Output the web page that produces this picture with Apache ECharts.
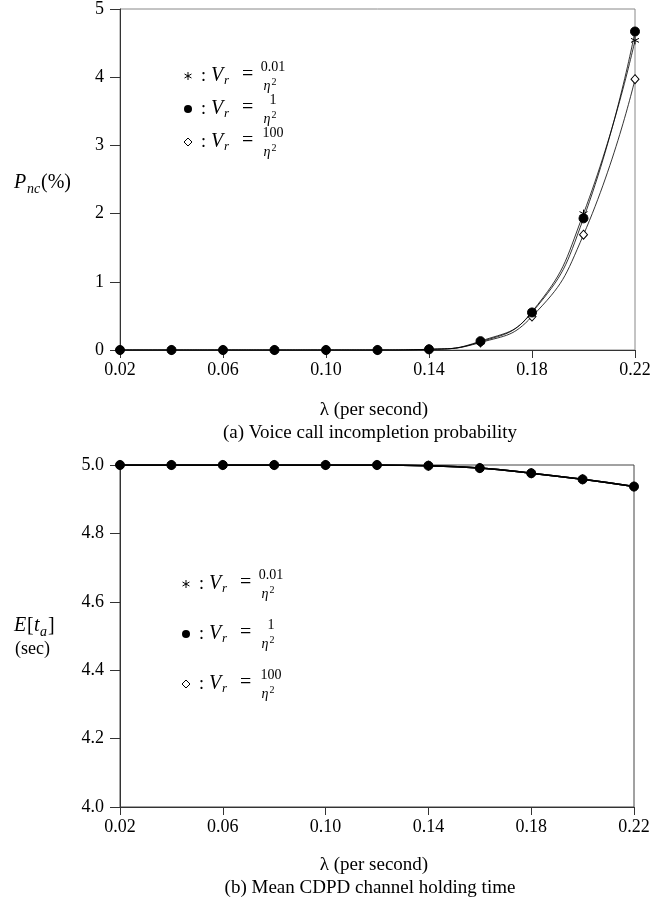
<!DOCTYPE html>
<html>
<head>
<meta charset="utf-8">
<script src="https://cdn.jsdelivr.net/npm/echarts@6/dist/echarts.min.js"></script>
<style>html,body{margin:0;padding:0;background:#fff}#c{width:664px;height:904px}</style>
</head>
<body>
<div id="c"></div>
<script>
const lambda = [0.02,0.04,0.06,0.08,0.10,0.12,0.14,0.16,0.18,0.20,0.22];
const xTicks = [0.02,0.06,0.10,0.14,0.18,0.22];
const pncStar = [0,0,0,0,0,0,0.01,0.12,0.56,2.00,4.54];
const pncDot  = [0,0,0,0,0,0,0.01,0.13,0.55,1.93,4.67];
const pncDia  = [0,0,0,0,0,0,0.01,0.11,0.49,1.69,3.97];
const etStar = [5.0,5.0,5.0,5.0,5.0,5.0,4.998,4.991,4.976,4.958,4.937];
const etDot  = [5.0,5.0,5.0,5.0,5.0,5.0,4.998,4.991,4.976,4.958,4.937];
const etDia  = [5.0,5.0,5.0,5.0,5.0,5.0,4.998,4.991,4.976,4.958,4.937];
const topTicks = [0,1,2,3,4,5];
const botTicks = [4.0,4.2,4.4,4.6,4.8,5.0];

const FONT = 'Liberation Serif';
const pair = ys => lambda.map((x,i)=>[x, ys[i]]);
const starPath = 'path://M0,-10L0,10M-8.66,-5L8.66,5M-8.66,5L8.66,-5';

function xAxisCfg(gi){
  return {
    type:'value', gridIndex:gi, min:0.02, max:0.22, interval:0.02,
    axisLine:{show:true, onZero:false, lineStyle:{color:'#333', width:1}},
    axisTick:{show:true, length:8, customValues:xTicks, lineStyle:{color:'#333'}},
    axisLabel:{customValues:xTicks, formatter:v=>v.toFixed(2), color:'#000', fontFamily:FONT, fontSize:18, margin:11},
    splitLine:{show:false}
  };
}
function yAxisCfg(gi, min, max, interval, dec, ticks){
  return {
    type:'value', gridIndex:gi, min:min, max:max, interval:interval,
    axisLine:{show:true, lineStyle:{color:'#333', width:1}},
    axisTick:{show:true, length:10, customValues:ticks, lineStyle:{color:'#333'}},
    axisLabel:{customValues:ticks, formatter:v=>v.toFixed(dec), color:'#000', fontFamily:FONT, fontSize:18, margin:16},
    splitLine:{show:false}
  };
}
function lineSeries(gi, data, symbol, size, fill, lw, z){
  return {
    type:'line', xAxisIndex:gi, yAxisIndex:gi, data:data, smooth:0.5,
    symbol:symbol, symbolSize:size, showSymbol:true,
    lineStyle:{color:'#000', width:lw},
    itemStyle:{color:fill, borderColor:'#000', borderWidth:1},
    z:z, animation:false
  };
}

function legendRow(x0, y, sym, num){
  const els = [];
  if(sym==='star'){
    const L = (x1,y1,x2,y2)=>({type:'line', shape:{x1:x0+x1,y1:y+y1,x2:x0+x2,y2:y+y2}, style:{stroke:'#000', lineWidth:1}});
    els.push(L(0,-4,0,4), L(-3.46,-2,3.46,2), L(-3.46,2,3.46,-2));
  } else if(sym==='dot'){
    els.push({type:'circle', shape:{cx:x0, cy:y, r:4}, style:{fill:'#000'}});
  } else {
    els.push({type:'polygon', shape:{points:[[x0,y-4],[x0+4,y],[x0,y+4],[x0-4,y]]}, style:{fill:'#fff', stroke:'#000', lineWidth:1}});
  }
  const t = (txt,x,yy,size,italic,align)=>({type:'text', x:x, y:yy, style:{text:txt, fontFamily:FONT, fontSize:size, fontStyle:italic?'italic':'normal', fill:'#000', align:align||'left', verticalAlign:'middle'}});
  els.push(t(':', x0+13, y, 18, false));
  els.push(t('V', x0+23, y, 20, true));
  els.push(t('r', x0+36, y+5, 13, true));
  els.push(t('=', x0+54, y-1, 20, false));
  els.push(t(num, x0+85, y-9, 14, false, 'center'));
  els.push(t('η', x0+79, y+10, 14, true, 'center'));
  els.push(t('2', x0+86, y+6, 10, false, 'center'));
  return els;
}

const chart = echarts.init(document.getElementById('c'), null, {renderer:'canvas'});
const graphics = [].concat(
  legendRow(188, 76, 'star', '0.01'),
  legendRow(188, 109, 'dot', '1'),
  legendRow(188, 142, 'dia', '100'),
  legendRow(186, 584, 'star', '0.01'),
  legendRow(186, 634, 'dot', '1'),
  legendRow(186, 684, 'dia', '100'),
  [
    {type:'text', x:14, y:183, style:{text:'P', fontFamily:FONT, fontSize:20, fontStyle:'italic', fill:'#000', verticalAlign:'middle'}},
    {type:'text', x:27, y:189, style:{text:'nc', fontFamily:FONT, fontSize:14, fontStyle:'italic', fill:'#000', verticalAlign:'middle'}},
    {type:'text', x:41, y:183, style:{text:'(%)', fontFamily:FONT, fontSize:20, fill:'#000', verticalAlign:'middle'}},
    {type:'text', x:14, y:626, style:{text:'E', fontFamily:FONT, fontSize:20, fontStyle:'italic', fill:'#000', verticalAlign:'middle'}},
    {type:'text', x:27, y:626, style:{text:'[', fontFamily:FONT, fontSize:20, fill:'#000', verticalAlign:'middle'}},
    {type:'text', x:34, y:626, style:{text:'t', fontFamily:FONT, fontSize:20, fontStyle:'italic', fill:'#000', verticalAlign:'middle'}},
    {type:'text', x:40, y:632, style:{text:'a', fontFamily:FONT, fontSize:14, fontStyle:'italic', fill:'#000', verticalAlign:'middle'}},
    {type:'text', x:48, y:626, style:{text:']', fontFamily:FONT, fontSize:20, fill:'#000', verticalAlign:'middle'}},
    {type:'text', x:15, y:649, style:{text:'(sec)', fontFamily:FONT, fontSize:18, fill:'#000', verticalAlign:'middle'}},
    {type:'text', x:374, y:410, style:{text:'λ (per second)', fontFamily:FONT, fontSize:19, fill:'#000', align:'center', verticalAlign:'middle'}},
    {type:'text', x:370, y:433, style:{text:'(a) Voice call incompletion probability', fontFamily:FONT, fontSize:19, fill:'#000', align:'center', verticalAlign:'middle'}},
    {type:'text', x:374, y:865, style:{text:'λ (per second)', fontFamily:FONT, fontSize:19, fill:'#000', align:'center', verticalAlign:'middle'}},
    {type:'text', x:370, y:888, style:{text:'(b) Mean CDPD channel holding time', fontFamily:FONT, fontSize:19, fill:'#000', align:'center', verticalAlign:'middle'}}
  ]
);

chart.setOption({
  animation:false,
  backgroundColor:'#fff',
  grid:[
    {left:120, right:29, top:8, height:342, show:true, borderColor:'#888', borderWidth:1, backgroundColor:'transparent'},
    {left:120, right:30, top:465, height:342, show:true, borderColor:'#444', borderWidth:1, backgroundColor:'transparent'}
  ],
  xAxis:[xAxisCfg(0), xAxisCfg(1)],
  yAxis:[yAxisCfg(0,0,5,1,0,topTicks), yAxisCfg(1,4.0,5.0,0.2,1,botTicks)],
  series:[
    lineSeries(0, pair(pncDia), 'diamond', [8,9], '#fff', 0.8, 2),
    lineSeries(0, pair(pncStar), starPath, 8, 'none', 0.8, 3),
    lineSeries(0, pair(pncDot), 'circle', 9, '#000', 0.8, 4),
    lineSeries(1, pair(etDia), 'diamond', [8,9], '#fff', 1.5, 2),
    lineSeries(1, pair(etStar), starPath, 8, 'none', 1.5, 3),
    lineSeries(1, pair(etDot), 'circle', 9, '#000', 1.5, 4)
  ],
  graphic:graphics
});
</script>
</body>
</html>
